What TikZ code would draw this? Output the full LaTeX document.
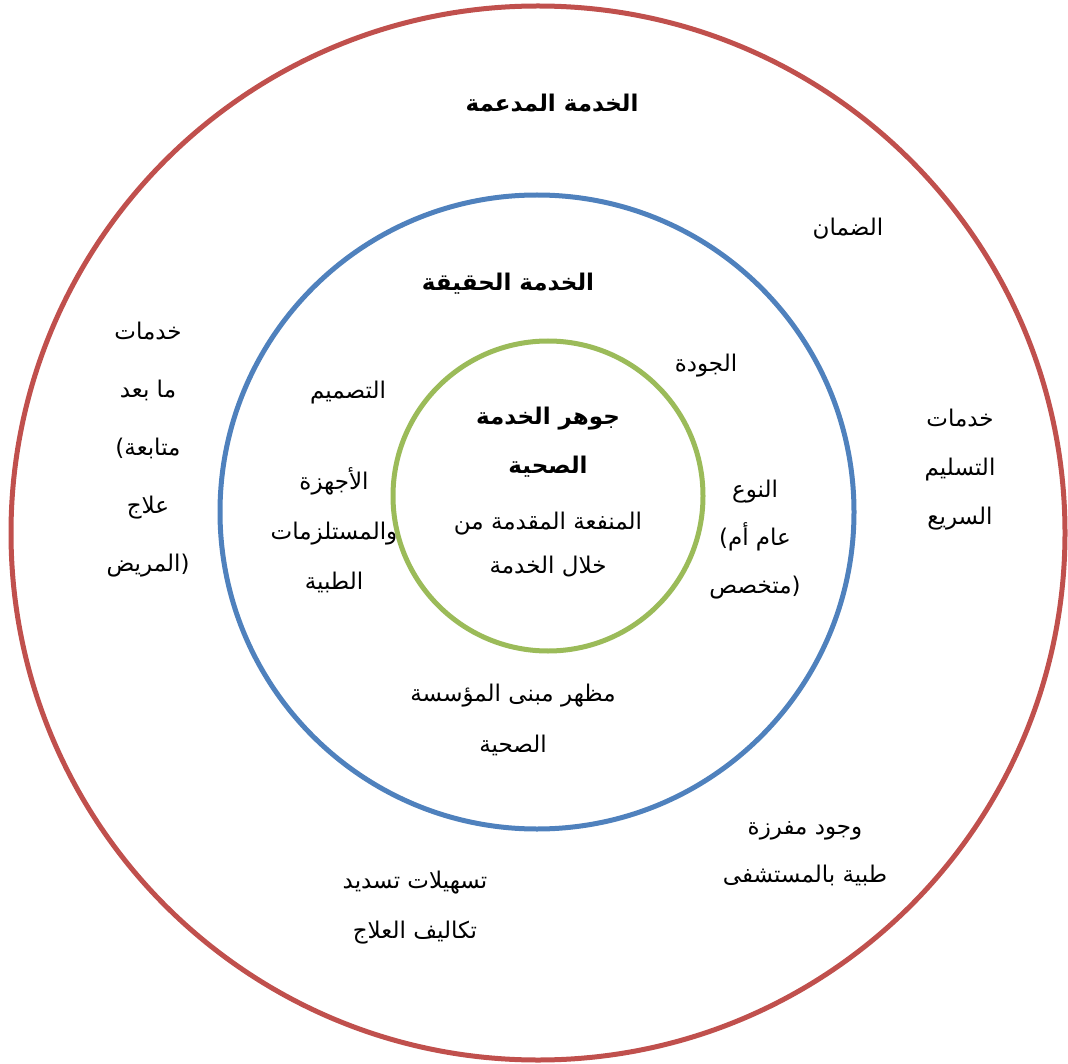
\documentclass[tikz,border=0pt]{standalone}
\usepackage{fontspec}
\usepackage{xcolor}
\usepackage{tikz}
\TeXXeTstate=1
\newfontfamily\arabicfont[Script=Arabic]{DejaVu Sans}
\newfontfamily\parenfont{DejaVu Sans}
\newcommand{\artxt}[1]{\hbox{\beginR #1\endR}}
\newcommand{\lparen}{\hbox{\parenfont(}}
\newcommand{\rparen}{\hbox{\parenfont)}}
\definecolor{outerred}{RGB}{192,80,77}
\definecolor{midblue}{RGB}{79,129,189}
\definecolor{innergreen}{RGB}{155,187,89}
\tikzset{
  ring/.style={line width=5pt},
  txt/.style={font=\arabicfont\fontsize{23}{58}\selectfont, align=center, inner sep=0pt},
  boldtxt/.style={txt, font=\arabicfont\bfseries\fontsize{23}{50}\selectfont}
}

\begin{document}
\begin{tikzpicture}[x=1pt, y=-1pt]
    \useasboundingbox (0,0) rectangle (1068,1064);
    % Rings
    \draw[ring, outerred]   (538,533) circle[radius=527pt];
    \draw[ring, midblue]    (537,512) circle[radius=317pt];
    \draw[ring, innergreen] (548,496) circle[radius=155pt];
    % Outer ring: supporting service
    \node[boldtxt] (supported) at (552,103) {\artxt{الخدمة المدعمة}};
    \node[txt] (warranty) at (848,229) {\artxt{الضمان}};
    \node[txt] (aftersales) at (148,450) {\artxt{خدمات}\\ \artxt{ما بعد}\\ \lparen\artxt{متابعة}\\ \artxt{علاج}\\ \artxt{المريض}\rparen};
    \node[txt, font=\arabicfont\fontsize{23}{49}\selectfont] (delivery) at (960,470) {\artxt{خدمات}\\ \artxt{التسليم}\\ \artxt{السريع}};
    \node[txt, font=\arabicfont\fontsize{23}{48}\selectfont] (medunit) at (805,854) {\artxt{وجود مفرزة}\\ \artxt{طبية بالمستشفى}};
    \node[txt, font=\arabicfont\fontsize{23}{50}\selectfont] (payment) at (415,908) {\artxt{تسهيلات تسديد}\\ \artxt{تكاليف العلاج}};
    % Middle ring: actual service
    \node[boldtxt] (actual) at (508,284) {\artxt{الخدمة الحقيقة}};
    \node[txt] (quality) at (706,366) {\artxt{الجودة}};
    \node[txt] (design) at (348,393) {\artxt{التصميم}};
    \node[txt, font=\arabicfont\fontsize{23}{50}\selectfont] (equipment) at (334,530) {\artxt{الأجهزة}\\ \artxt{والمستلزمات}\\ \artxt{الطبية}};
    \node[txt, font=\arabicfont\fontsize{23}{48}\selectfont] (kind) at (755,540) {\artxt{النوع}\\ \lparen\artxt{عام أم}\\ \artxt{متخصص}\rparen};
    \node[txt, font=\arabicfont\fontsize{23}{51}\selectfont] (building) at (513,720) {\artxt{مظهر مبنى المؤسسة}\\ \artxt{الصحية}};
    % Inner ring: core service
    \node[boldtxt, font=\arabicfont\bfseries\fontsize{23}{49}\selectfont] (core) at (548,442) {\artxt{جوهر الخدمة}\\ \artxt{الصحية}};
    \node[txt, font=\arabicfont\fontsize{23}{44}\selectfont] (benefit) at (548,545) {\artxt{المنفعة المقدمة من}\\ \artxt{خلال الخدمة}};
\end{tikzpicture}
\end{document}
